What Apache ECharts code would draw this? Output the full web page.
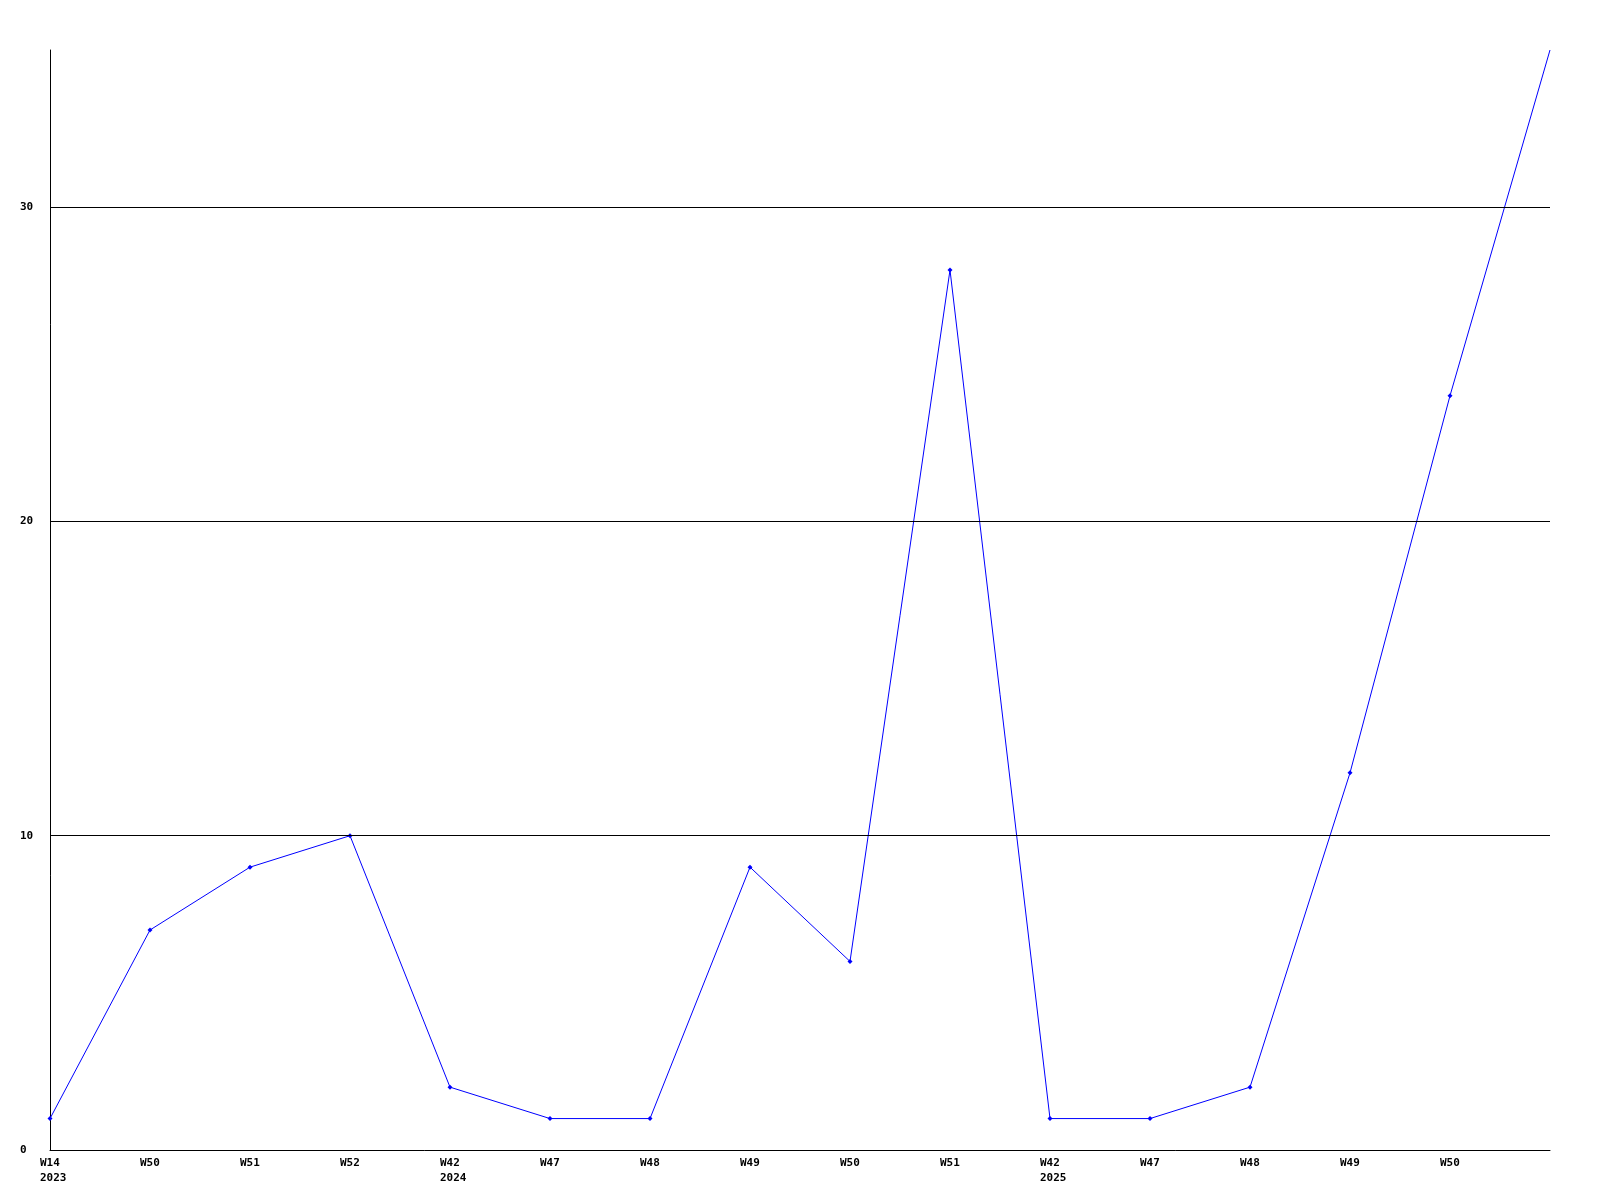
<!DOCTYPE html>
<html>
<head>
<meta charset="utf-8">
<script src="https://cdn.jsdelivr.net/npm/echarts@6/dist/echarts.min.js"></script>
<style>
html,body{margin:0;padding:0;background:#fff;}
#chart{width:1600px;height:1200px;}
</style>
</head>
<body>
<div id="chart"></div>
<script>
const weeks = ['W14','W50','W51','W52','W42','W47','W48','W49','W50','W51','W42','W47','W48','W49','W50',''];
const years = ['2023','','','','2024','','','','','','2025','','','','',''];
const values = [1,7,9,10,2,1,1,9,6,28,1,1,2,12,24,35];
const gridValues = [10,20,30];

const categories = weeks.map((w,i)=> years[i] ? w + '\n' + years[i] : w);
const seriesData = values.map((v,i)=> weeks[i] === '' ? {value:v, symbol:'none'} : v);

const chart = echarts.init(document.getElementById('chart'), null, {renderer:'canvas'});
const font = 'DejaVu Sans Mono';
chart.setOption({
  animation:false,
  backgroundColor:'#ffffff',
  grid:{left:50,right:50,top:50,bottom:50,containLabel:false},
  xAxis:{
    type:'category',
    data:categories,
    boundaryGap:false,
    axisLine:{show:true,lineStyle:{color:'#000',width:1}},
    axisTick:{show:false},
    splitLine:{show:false},
    axisLabel:{
      interval:0,
      margin:6,
      align:'center',
      color:'#000',
      fontFamily:font,
      fontWeight:'bold',
      fontSize:11,
      lineHeight:15,
      formatter:function(v){
        return v.split('\n').map(s=>'{a|'+s+'}').join('\n');
      },
      rich:{a:{width:20,align:'left',fontFamily:font,fontWeight:'bold',fontSize:11,lineHeight:15,color:'#000'}}
    }
  },
  yAxis:{
    type:'value',
    min:0,max:35,interval:10,
    axisLine:{show:true,lineStyle:{color:'#000',width:1}},
    axisTick:{show:false},
    splitLine:{show:false},
    axisLabel:{
      showMaxLabel:false,
      margin:30,
      align:'left',
      color:'#000',
      fontFamily:font,
      fontWeight:'bold',
      fontSize:11,
      formatter:function(v){return v===35?'':String(v);}
    }
  },
  series:[{
    type:'line',
    data:seriesData,
    clip:false,
    symbol:'diamond',
    symbolSize:5,
    showSymbol:true,
    itemStyle:{color:'#0000ff'},
    lineStyle:{color:'#0000ff',width:1},
    markLine:{
      silent:true,
      symbol:'none',
      label:{show:false},
      lineStyle:{color:'#000',width:1,type:'solid'},
      data:gridValues.map(v=>({yAxis:v}))
    },
    z:3
  }]
});
</script>
</body>
</html>
